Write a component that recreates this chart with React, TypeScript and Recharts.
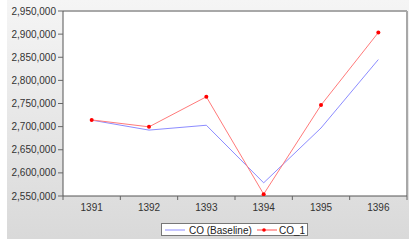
import React from "react";
import { LineChart, Line, XAxis, YAxis, ReferenceArea, ReferenceLine } from "recharts";

const years = ["1391", "1392", "1393", "1394", "1395", "1396"];
const coBaseline = [2714000, 2692500, 2703000, 2578500, 2697000, 2845000];
const co1 = [2714500, 2699500, 2764500, 2554000, 2746500, 2903500];
const yTicks = [2550000, 2600000, 2650000, 2700000, 2750000, 2800000, 2850000, 2900000, 2950000];
const xTicks = [-0.5, 0, 0.5, 1, 1.5, 2, 2.5, 3, 3.5, 4, 4.5, 5, 5.5];

const data = years.map((y, i) => ({ idx: i, year: y, base: coBaseline[i], co1: co1[i] }));

const FONT = "'Liberation Sans', Arial, sans-serif";

const XTick = (props: any) => {
  const { x, y, payload } = props;
  const v = payload.value;
  if (Number.isInteger(v)) {
    return (
      <text x={x} y={y + 15} textAnchor="middle" fontSize={10} fill="#333" fontFamily={FONT}>
        {years[v]}
      </text>
    );
  }
  return <line x1={x} y1={y} x2={x} y2={y + 4} stroke="#666" strokeWidth={1} />;
};

const RedDot = (props: any) => {
  const { cx, cy } = props;
  return <circle cx={cx} cy={cy} r={2} fill="#ff0000" stroke="none" />;
};

export default function App() {
  return (
    <div style={{ position: "absolute", left: 0, top: 0, width: 409, height: 241, background: "#fff" }}>
      <div
        style={{
          position: "absolute",
          left: 7,
          top: 0,
          width: 402,
          height: 239,
          background: "linear-gradient(#f5f5f5, #d9d9d9)",
        }}
      />
      <div style={{ position: "absolute", left: 0, top: 0 }}>
        <LineChart width={409} height={241} data={data} margin={{ top: 11, right: 2, left: 0, bottom: 25 }}>
          <ReferenceArea y1={2550000} y2={2950000} fill="#ffffff" fillOpacity={1} stroke="none" />
          <ReferenceLine y={2950000} stroke="#a8a8a8" strokeWidth={2} />
          <ReferenceLine x={5.5} stroke="#a8a8a8" strokeWidth={2} />
          <XAxis
            dataKey="idx"
            type="number"
            domain={[-0.5, 5.5]}
            ticks={xTicks}
            interval={0}
            allowDataOverflow
            height={20}
            tickLine={false}
            tickSize={0}
            tickMargin={0}
            axisLine={{ stroke: "#555" }}
            tick={<XTick />}
          />
          <YAxis
            type="number"
            domain={[2550000, 2950000]}
            ticks={yTicks}
            interval={0}
            allowDataOverflow
            width={63}
            tickSize={5}
            tickMargin={2}
            axisLine={{ stroke: "#555" }}
            tickLine={{ stroke: "#666" }}
            tick={{ fontSize: 10, fill: "#333", fontFamily: FONT }}
            tickFormatter={(v: number) => v.toLocaleString("en-US")}
          />
          <Line
            dataKey="base"
            stroke="#8c8cff"
            strokeWidth={1}
            dot={false}
            activeDot={false}
            isAnimationActive={false}
          />
          <Line
            dataKey="co1"
            stroke="#ff7a7a"
            strokeWidth={1}
            dot={<RedDot />}
            activeDot={false}
            isAnimationActive={false}
          />
        </LineChart>
      </div>
      <div
        style={{
          position: "absolute",
          left: 161,
          top: 223,
          width: 147,
          height: 13,
          background: "#fff",
          border: "1px solid #777",
          boxSizing: "border-box",
          fontFamily: FONT,
          fontSize: 10,
          color: "#222",
        }}
      >
        <svg width={147} height={13} style={{ position: "absolute", left: -1, top: -1 }}>
          <line x1={4} y1={7} x2={24} y2={7} stroke="#8c8cff" strokeWidth={1} />
          <text x={28} y={10.5} fontSize={10} fill="#222" fontFamily={FONT}>CO (Baseline)</text>
          <line x1={96} y1={7} x2={116} y2={7} stroke="#ff5050" strokeWidth={1} />
          <circle cx={103} cy={7} r={1.8} fill="#ff0000" />
          <text x={118} y={10.5} fontSize={10} fill="#222" fontFamily={FONT}>CO_1</text>
        </svg>
      </div>
    </div>
  );
}
